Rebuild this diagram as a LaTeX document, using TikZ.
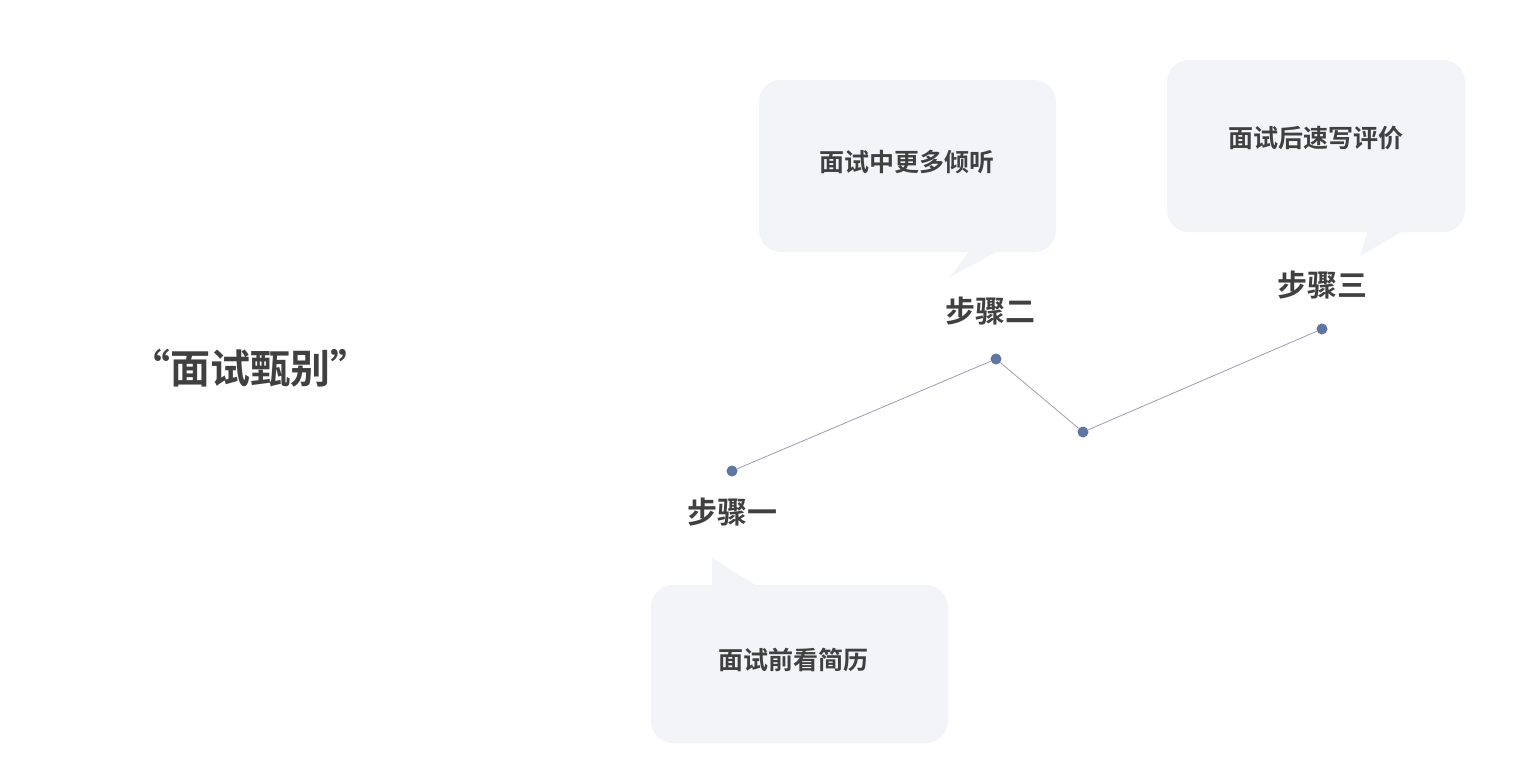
\documentclass[tikz,border=0pt]{standalone}
\usepackage{fontspec}
\newfontfamily\cjk{Noto Sans CJK SC}[BoldFont={Noto Sans CJK SC Bold}]
\definecolor{txt}{HTML}{404040}
\definecolor{bub}{HTML}{F3F4F8}
\definecolor{dotc}{HTML}{5E76A0}
\definecolor{linec}{HTML}{9AA0B0}
\begin{document}
\begin{tikzpicture}[x=1pt,y=-1pt,
  bubble/.style={fill=bub,draw=none},
  dotn/.style={circle,fill=dotc,inner sep=0pt,minimum size=11pt},
  steplab/.style={font=\cjk\bfseries\fontsize{30}{36}\selectfont,text=txt},
  bubtext/.style={font=\cjk\bfseries\fontsize{25}{30}\selectfont,text=txt}]
\useasboundingbox[fill=white] (0,0) rectangle (1536,780);
\node[font=\cjk\bfseries\fontsize{40}{48}\selectfont,text=txt] (title) at (250,368) {“面试甄别”};
% bubbles
\fill[bub,rounded corners=22pt] (651,585) rectangle (948,743);
\fill[bub] (712,586) -- (712,558) -- (757,586) -- cycle;
\node[bubtext] (t1) at (793,660) {面试前看简历};
\fill[bub,rounded corners=22pt] (759,80) rectangle (1056,252);
\fill[bub] (970,250) -- (950,277) -- (1000,250) -- cycle;
\node[bubtext] (t2) at (907,162) {面试中更多倾听};
\fill[bub,rounded corners=22pt] (1167,60) rectangle (1465,232);
\fill[bub] (1368,230) -- (1360,256) -- (1405,230) -- cycle;
\node[bubtext] (t3) at (1316,138) {面试后速写评价};
% points
\node[dotn] (a) at (732,471) {};
\node[dotn] (b) at (996,359) {};
\node[dotn] (c) at (1083,432) {};
\node[dotn] (d) at (1322,329) {};
\draw[linec,line width=0.8pt] (a) -- (b) -- (c) -- (d);
\node[steplab] (s1) at (732,512) {步骤一};
\node[steplab] (s2) at (990,311) {步骤二};
\node[steplab] (s3) at (1322,285) {步骤三};
\end{tikzpicture}
\end{document}
